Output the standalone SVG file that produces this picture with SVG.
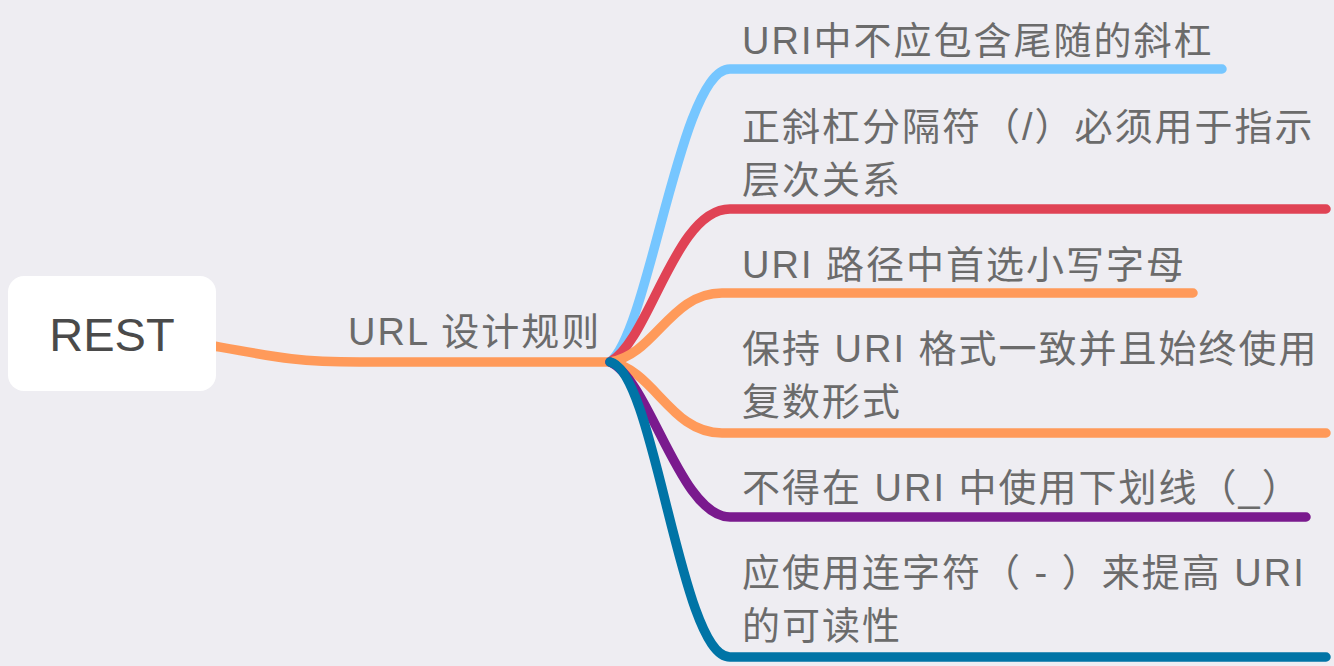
<svg xmlns="http://www.w3.org/2000/svg" width="1334" height="666" viewBox="0 0 1334 666">
<style>
.t{font-family:"Liberation Sans","Noto Sans CJK SC",sans-serif;font-size:38px;letter-spacing:2px;fill:#6b6b6b}
.c{fill:none;stroke-width:9.5;stroke-linecap:round;stroke-linejoin:round}
</style>
<rect width="1334" height="666" fill="#EEEDF2"/>
<g id="connectors">
<path class="c" stroke="#FF9A5A" d="M214,346 C280,358 300,362 360,362 L610,362"/>
<path class="c" stroke="#76C6FF" d="M610,362 C650,330 680,69 730,69 L1222,69"/>
<path class="c" stroke="#E04355" d="M610,362 C650,340 675,209 730,209 L1326,209"/>
<path class="c" stroke="#FF9A5A" d="M610,362 C655,355 670,293 722,293 L1193,293"/>
<path class="c" stroke="#FF9A5A" d="M610,362 C655,370 670,433 722,433 L1326,433"/>
<path class="c" stroke="#7A1A8E" d="M610,362 C650,380 680,517 730,517 L1306,517"/>
<path class="c" stroke="#0074A6" d="M610,362 C655,370 680,657 730,657 L1326,657"/>
</g>
<g id="root">
<rect x="8" y="276" width="208" height="115" rx="16" fill="#FFFFFF"/>
<text x="112" y="351" text-anchor="middle" font-family="Liberation Sans, sans-serif" font-size="47" fill="#4a4a4a">REST</text>
</g>
<g id="topic"><text class="t" x="348" y="345">URL 设计规则</text></g>
<g id="n1"><text class="t" x="742" y="54">URI中不应包含尾随的斜杠</text></g>
<g id="n2"><text class="t" x="742" y="140">正斜杠分隔符（/）必须用于指示</text><text class="t" x="742" y="193">层次关系</text></g>
<g id="n3"><text class="t" x="742" y="278">URI 路径中首选小写字母</text></g>
<g id="n4"><text class="t" x="742" y="362">保持 URI 格式一致并且始终使用</text><text class="t" x="742" y="415">复数形式</text></g>
<g id="n5"><text class="t" x="742" y="501">不得在 URI 中使用下划线（_）</text></g>
<g id="n6"><text class="t" x="742" y="586">应使用连字符（ - ）来提高 URI</text><text class="t" x="742" y="639">的可读性</text></g>
</svg>
